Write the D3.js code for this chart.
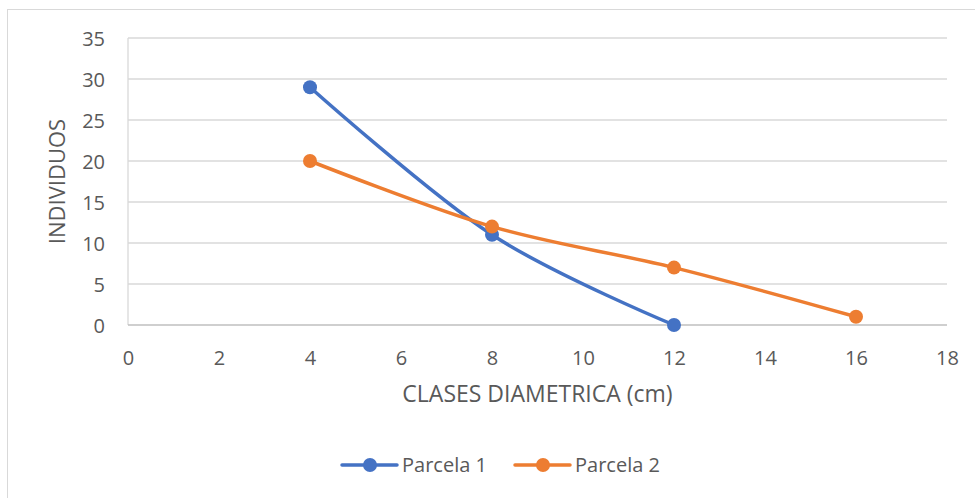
<!DOCTYPE html>
<html>
<head>
<meta charset="utf-8">
<script src="https://cdn.jsdelivr.net/npm/d3@7"></script>
<style>
  body { margin: 0; background: #fff; }
  text { font-family: "Open Sans", sans-serif; fill: #595959; }
</style>
</head>
<body>
<svg width="975" height="498"></svg>
<script>
// data
const clases = [4, 8, 12, 16];
const parcela1 = [29, 11, 0];
const parcela2 = [20, 12, 7, 1];
const xTicks = [0, 2, 4, 6, 8, 10, 12, 14, 16, 18];
const yTicks = [0, 5, 10, 15, 20, 25, 30, 35];
const seriesNames = ["Parcela 1", "Parcela 2"];
const colors = ["#4472C4", "#ED7D31"];

const margin = {top: 38, right: 28, bottom: 173, left: 128},
    width = 975 - margin.left - margin.right,
    height = 498 - margin.top - margin.bottom;

const svg = d3.select("svg");

// chart border
svg.append("rect")
    .attr("x", 7.5).attr("y", 9.5)
    .attr("width", 990).attr("height", 510)
    .attr("fill", "none")
    .attr("stroke", "#d9d9d9");

const g = svg.append("g")
    .attr("transform", `translate(${margin.left},${margin.top})`);

const x = d3.scaleLinear().domain([0, 18]).range([0, width]);
const y = d3.scaleLinear().domain([0, 35]).range([height, 0]);

// gridlines
g.append("g")
    .selectAll("line")
    .data(yTicks.filter(d => d > 0))
    .join("line")
    .attr("x1", 0).attr("x2", width)
    .attr("y1", d => y(d)).attr("y2", d => y(d))
    .attr("stroke", "#d9d9d9")
    .attr("stroke-width", 1.3);

// axis lines
g.append("line")
    .attr("x1", 0).attr("x2", 0)
    .attr("y1", 0).attr("y2", height)
    .attr("stroke", "#d9d9d9").attr("stroke-width", 1.3);
g.append("line")
    .attr("x1", 0).attr("x2", width)
    .attr("y1", height).attr("y2", height)
    .attr("stroke", "#bfbfbf").attr("stroke-width", 1.3);

// tick labels
const xAxis = g.append("g")
    .attr("transform", `translate(0,${height})`)
    .call(d3.axisBottom(x).tickValues(xTicks).tickSize(0).tickPadding(0));
xAxis.select(".domain").remove();
xAxis.selectAll("text")
    .attr("dy", null)
    .attr("y", 40)
    .style("font-size", "20px")
    .attr("font-family", null);

const yAxis = g.append("g")
    .call(d3.axisLeft(y).tickValues(yTicks).tickSize(0).tickPadding(23));
yAxis.select(".domain").remove();
yAxis.selectAll("text")
    .attr("dy", "0.36em")
    .style("font-size", "20px")
    .attr("font-family", null);

// axis titles
g.append("text")
    .attr("x", width / 2)
    .attr("y", height + 77)
    .attr("text-anchor", "middle")
    .style("font-size", "23px")
    .text("CLASES DIAMETRICA (cm)");

g.append("text")
    .attr("transform", `translate(${-63},${height / 2}) rotate(-90)`)
    .attr("text-anchor", "middle")
    .style("font-size", "22px")
    .text("INDIVIDUOS");

// series
const series = [parcela1, parcela2].map((vals, i) => ({
    name: seriesNames[i],
    color: colors[i],
    points: vals.map((v, j) => [clases[j], v])
}));

const line = d3.line()
    .x(d => x(d[0]))
    .y(d => y(d[1]))
    .curve(d3.curveCardinal.tension(0));

series.forEach(s => {
    g.append("path")
        .datum(s.points)
        .attr("d", line)
        .attr("fill", "none")
        .attr("stroke", s.color)
        .attr("stroke-width", 3.5)
        .attr("stroke-linecap", "round");
    g.append("g")
        .selectAll("circle")
        .data(s.points)
        .join("circle")
        .attr("cx", d => x(d[0]))
        .attr("cy", d => y(d[1]))
        .attr("r", 7)
        .attr("fill", s.color);
});

// legend
const legend = svg.append("g")
    .attr("transform", "translate(342,465)");
const items = legend.selectAll("g")
    .data(series)
    .join("g")
    .attr("transform", (d, i) => `translate(${i * 173},0)`);
items.append("line")
    .attr("x1", 0).attr("x2", 55)
    .attr("stroke", d => d.color)
    .attr("stroke-width", 3.5)
    .attr("stroke-linecap", "round");
items.append("circle")
    .attr("cx", 28).attr("r", 7)
    .attr("fill", d => d.color);
items.append("text")
    .attr("x", 60)
    .attr("dy", "0.36em")
    .style("font-size", "20px")
    .text(d => d.name);
</script>
</body>
</html>
